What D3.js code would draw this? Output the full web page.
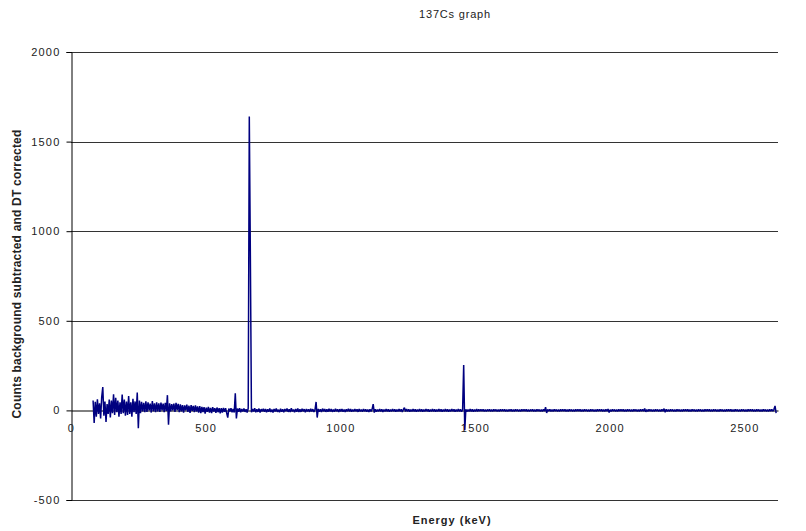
<!DOCTYPE html>
<html><head><meta charset="utf-8">
<script src="https://cdn.jsdelivr.net/npm/d3@7"></script>
<style>body{margin:0;background:#fff}svg{display:block}text{font-family:"Liberation Sans",Arial,sans-serif}</style>
</head><body><svg id="c" width="806" height="531"></svg>
<script>
const title = "137Cs graph";
const xTitle = "Energy (keV)";
const yTitle = "Counts background subtracted and DT corrected";
const xTicks = [0, 500, 1000, 1500, 2000, 2500];
const yTicks = [-500, 0, 500, 1000, 1500, 2000];
const energyStart = 82;   // keV of first channel
const energyStep = 4;     // keV per channel
const counts = [
55,-70,48,-35,62,-20,40,-45,75,130,-30,50,-65,35,-20,60,-40,55,-15,90,
-25,70,-10,55,-35,45,-20,88,-15,60,-30,50,-25,80,-20,45,-35,65,-10,50,
-20,100,-100,55,-15,48,-5,42,-10,50,-8,45,0,38,-12,52,-5,40,-10,45,
-5,40,-8,44,0,38,-10,42,-3,85,-80,40,-5,35,0,38,-8,42,2,36,
-10,34,-5,30,-12,28,0,32,-8,26,-14,30,-2,25,-10,28,-6,22,-12,24,
-15,20,-10,18,-18,15,-8,20,-12,14,-15,18,-6,12,-14,16,-10,13,-16,12,
-12,14,-8,12,-15,-40,10,-6,12,-10,8,-12,95,-45,10,-8,12,-10,8,-6,
10,-8,6,-12,12,1640,850,-10,8,-6,12,-10,6,-8,10,-12,7,-5,9,-8,
8,-10,6,-7,11,-9,5,-12,8,-6,10,-8,4,-10,9,-7,6,-11,8,-5,
10,-8,6,-9,12,-6,5,-10,8,-7,11,-9,6,-8,9,-5,7,-10,8,-6,
6,-8,9,-6,7,-9,5,47,-40,8,-7,6,-9,10,-5,7,-8,6,-7,9,
-6,7,-8,5,-7,9,-5,6,-9,7,-6,8,-7,5,-8,6,-5,9,-6,7,
-7,5,-6,8,-5,6,-8,7,-6,5,-7,8,-5,6,-7,5,-8,6,-5,7,
35,-12,6,-7,5,-6,7,-5,6,-8,5,-6,7,-5,6,-7,5,-6,8,-5,
6,-7,5,-6,7,-5,6,-8,5,15,-6,7,-5,6,-7,5,-6,7,-5,6,
-7,5,-6,7,-5,6,-7,5,-6,8,-5,6,-7,5,-6,7,-5,6,-7,5,
-6,7,-5,6,-7,5,-6,7,-5,6,-7,5,-6,8,-5,6,-7,5,-6,7,
-5,6,-7,5,253,-110,6,-7,5,-6,7,-5,6,-7,5,-6,7,-5,6,-4,
5,-4,6,-5,4,-6,5,-4,6,-5,4,-5,6,-4,5,-6,4,-5,6,-4,
5,-4,6,-5,4,-6,5,-4,6,-5,4,-5,6,-4,5,-6,4,-5,6,-4,
5,-4,6,-5,4,-6,5,-4,6,-5,4,-5,6,-4,5,-6,4,-5,6,-4,
18,-14,5,-4,6,-5,4,-5,6,-4,5,-6,4,-5,6,-4,5,-4,6,-5,
4,-5,6,-4,5,-6,4,-5,6,-4,5,-4,6,-5,4,-5,6,-4,5,-6,
4,-5,6,-4,5,-6,4,-5,6,-4,5,-4,6,-5,4,-5,6,-4,8,-12,
4,-5,6,-4,5,-6,4,-5,6,-4,5,-4,6,-5,4,-5,6,-4,5,-6,
4,-5,6,-4,5,-6,4,-5,6,-4,5,-4,10,-8,4,-5,6,-4,5,-6,
4,-5,6,-4,5,-6,4,-5,6,-4,10,-10,6,-5,4,-5,6,-4,5,-6,
4,-5,6,-4,5,-6,4,-5,6,-4,5,-4,6,-5,4,-5,6,-4,5,-6,
4,-5,6,-4,5,-6,4,-5,6,-4,5,-4,6,-5,4,-5,6,-4,5,-6,
4,-5,6,-4,5,-6,4,-5,6,-4,5,-4,6,-5,4,-5,6,-4,5,-6,
4,-5,6,-4,5,-6,4,-5,6,-4,5,-4,6,-5,4,-5,6,-4,5,-6,
4,-5,6,-4,5,-6,4,-5,6,-4,5,-4,6,25,-15
];

const svg = d3.select("#c");
const L = 71, R = 778, T = 52, B = 500;
const x = d3.scaleLinear().domain([0, 2625]).range([L, R]);
const y = d3.scaleLinear().domain([-500, 2000]).range([B, T]);
const fmt = d => String(d);

// title
svg.append("text").attr("x", 455).attr("y", 18).attr("text-anchor", "middle")
  .attr("font-size", 11).attr("fill", "#222").attr("letter-spacing", 0.8).text(title);

// gridlines
svg.append("g").selectAll("line").data(yTicks.filter(d => d !== 0)).join("line")
  .attr("x1", L).attr("x2", R).attr("y1", d => Math.round(y(d)) + 0.5).attr("y2", d => Math.round(y(d)) + 0.5)
  .attr("stroke", "#333").attr("stroke-width", 1);

// y axis
const yAxis = d3.axisLeft(y).tickValues(yTicks).tickSize(5).tickPadding(6).tickFormat(fmt);
const gy = svg.append("g").attr("transform", `translate(${L + 0.5},0)`).call(yAxis);
gy.select(".domain").attr("stroke", "#000");
gy.selectAll(".tick line").attr("stroke", "#000");
gy.selectAll(".tick text").attr("font-size", 11).attr("fill", "#222").attr("letter-spacing", 1.2)
  .attr("font-family", "Liberation Sans, Arial, sans-serif");

// x axis at y=0
const xAxis = d3.axisBottom(x).tickValues(xTicks).tickSize(0).tickPadding(14).tickFormat(fmt);
const gx = svg.append("g").attr("transform", `translate(0,${Math.round(y(0)) + 0.5})`).call(xAxis);
gx.select(".domain").attr("stroke", "#000");
gx.selectAll(".tick text").attr("font-size", 11).attr("fill", "#222").attr("letter-spacing", 1.2)
  .attr("font-family", "Liberation Sans, Arial, sans-serif");

// series
const line = d3.line().x((d, i) => x(energyStart + i * energyStep)).y(d => y(d));
svg.append("path").datum(counts).attr("d", line)
  .attr("fill", "none").attr("stroke", "#000080").attr("stroke-width", 1.5).attr("stroke-linejoin", "bevel");

// axis titles
svg.append("text").attr("transform", "translate(21,274) rotate(-90)").attr("text-anchor", "middle")
  .attr("font-size", 12).attr("font-weight", "bold").attr("fill", "#222").attr("letter-spacing", 0.2).text(yTitle);
svg.append("text").attr("x", 452).attr("y", 524).attr("text-anchor", "middle")
  .attr("font-size", 11).attr("font-weight", "bold").attr("fill", "#222").attr("letter-spacing", 1).text(xTitle);
</script></body></html>
